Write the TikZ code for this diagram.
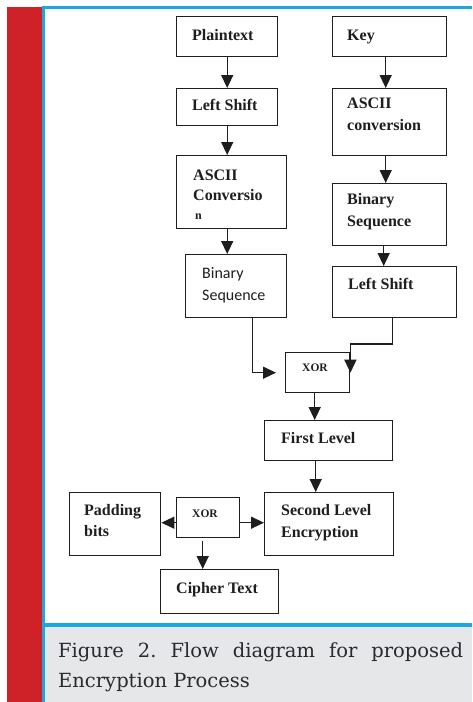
\documentclass[tikz,border=0pt]{standalone}
\usepackage{fontspec}
\setmainfont{Liberation Serif}
\newfontfamily\capfont{DejaVu Serif}
\newfontfamily\sansfont{Carlito}
\usetikzlibrary{arrows.meta}
\definecolor{framered}{HTML}{CF2128}
\definecolor{frameblue}{HTML}{1AA8E0}
\definecolor{capgrey}{HTML}{E6E7E8}
\definecolor{linec}{HTML}{1E1E1E}
\definecolor{captext}{HTML}{2A2A2A}
\frenchspacing
\begin{document}
\begin{tikzpicture}[x=1pt,y=-1pt,
  box/.style={draw=linec, line width=1.4pt, anchor=north west, inner sep=0pt},
  lab/.style={anchor=base west, inner sep=0pt, text=linec,
    font=\fontsize{16}{18}\selectfont\bfseries},
  small/.style={anchor=base west, inner sep=0pt, text=linec,
    font=\fontsize{11.5}{13}\selectfont\bfseries},
  sanslab/.style={anchor=base west, inner sep=0pt, text=linec,
    font=\fontsize{16}{18}\selectfont\sansfont},
  arr/.style={draw=linec, line width=1.4pt, -{Triangle[length=13pt,width=12pt]}}]
\useasboundingbox (0,0) rectangle (472,702);

% page frame: red margin, blue rule, white figure area, grey caption area
\fill[frameblue] (42,6) rectangle (472,702);
\fill[white] (44.7,9) rectangle (472,622.7);
\fill[capgrey] (44.7,626.7) rectangle (472,702);
\fill[framered] (7,6.7) rectangle (42,702);

% boxes
\node[box, minimum width=101pt, minimum height=40pt] (pt)   at (176,16)  {};
\node[box, minimum width=101pt, minimum height=37pt] (ls1)  at (176,88)  {};
\node[box, minimum width=110pt, minimum height=73pt] (asc1) at (176,155) {};
\node[box, minimum width=101pt, minimum height=63pt] (bsl)  at (185,254) {};
\node[box, minimum width=114pt, minimum height=40pt] (key)  at (332,16)  {};
\node[box, minimum width=114pt, minimum height=67pt] (asc2) at (332,88)  {};
\node[box, minimum width=114pt, minimum height=62pt] (bsr)  at (332,183) {};
\node[box, minimum width=124pt, minimum height=51pt] (ls2)  at (332,266) {};
\node[box, minimum width=64pt,  minimum height=40pt] (xor1) at (285,352) {};
\node[box, minimum width=128pt, minimum height=40pt] (fl)   at (264,420) {};
\node[box, minimum width=129pt, minimum height=63pt] (sle)  at (264,492) {};
\node[box, minimum width=63pt,  minimum height=40pt] (xor2) at (176,497) {};
\node[box, minimum width=91pt,  minimum height=63pt] (pad)  at (69,492)  {};
\node[box, minimum width=118pt, minimum height=44pt] (ct)   at (160,569) {};

% labels
\node[lab] (ptT)  at (192,40)  {Plaintext};
\node[lab] (ls1T) at (192,110) {Left Shift};
\node[lab] (asc1a) at (193,180) {ASCII};
\node[lab] (asc1b) at (193,200) {Conversio};
\node[anchor=base west, inner sep=0pt, text=linec,
  font=\fontsize{12}{13}\selectfont\bfseries] (asc1c) at (195,219) {n};
\node[sanslab] (bsla) at (202,278) {Binary};
\node[sanslab] (bslb) at (202,300) {Sequence};
\node[lab] (keyT)  at (347,40)  {Key};
\node[lab] (asc2a) at (347,108) {ASCII};
\node[lab] (asc2b) at (347,130) {conversion};
\node[lab] (bsra)  at (347,204) {Binary};
\node[lab] (bsrb)  at (347,226) {Sequence};
\node[lab] (ls2T)  at (348,289) {Left Shift};
\node[small] (xor1T) at (302,371) {XOR};
\node[lab] (flT)   at (281,443) {First Level};
\node[lab] (slea)  at (281,515) {Second Level};
\node[lab] (sleb)  at (281,537) {Encryption};
\node[small] (xor2T) at (192,517) {XOR};
\node[lab] (pada)  at (84,515)  {Padding};
\node[lab] (padb)  at (84,536)  {bits};
\node[lab] (ctT)   at (176,593) {Cipher Text};

% connectors
\draw[arr] (pt.south) -- (ls1.north);
\draw[arr] (ls1.south) -- (ls1.south |- asc1.north);
\draw[arr] (asc1.south -| ls1.south) -- (bsl.north -| ls1.south);
\draw[arr] ([xshift=-4pt]key.south) -- ([xshift=-4pt]asc2.north);
\draw[arr] ([xshift=-4pt]asc2.south) -- ([xshift=-4pt]bsr.north);
\draw[arr] ([xshift=-6pt]bsr.south) -- ([xshift=-11pt]ls2.north);
\draw[arr] ([xshift=16.5pt]bsl.south) |- ([xshift=-9pt]xor1.west);
\draw[arr] ([xshift=-2pt]ls2.south) |- ([yshift=8pt]xor1.north east) -- (xor1.east);
\draw[arr] ([xshift=-3pt]xor1.south) -- ([xshift=-14pt]fl.north);
\draw[arr] ([xshift=-13pt]fl.south) -- ([xshift=-13.5pt]sle.north);
\draw[arr] ([yshift=-5pt]xor2.east) -- ([yshift=1.5pt]sle.west);
\draw[arr] ([yshift=-5pt]xor2.west) -- ([yshift=1.5pt]pad.east);
\draw[arr] ([xshift=-5.5pt,yshift=-3pt]xor2.south) -- ([xshift=-17pt]ct.north);

% caption
\node[anchor=base west, inner sep=0pt, text width=405pt, align=justify,
  text=captext, font=\capfont\fontsize{19.5}{30}\selectfont] (cap) at (58,657)
  {Figure 2. Flow diagram for proposed\linebreak Encryption Process};
\end{tikzpicture}
\end{document}
